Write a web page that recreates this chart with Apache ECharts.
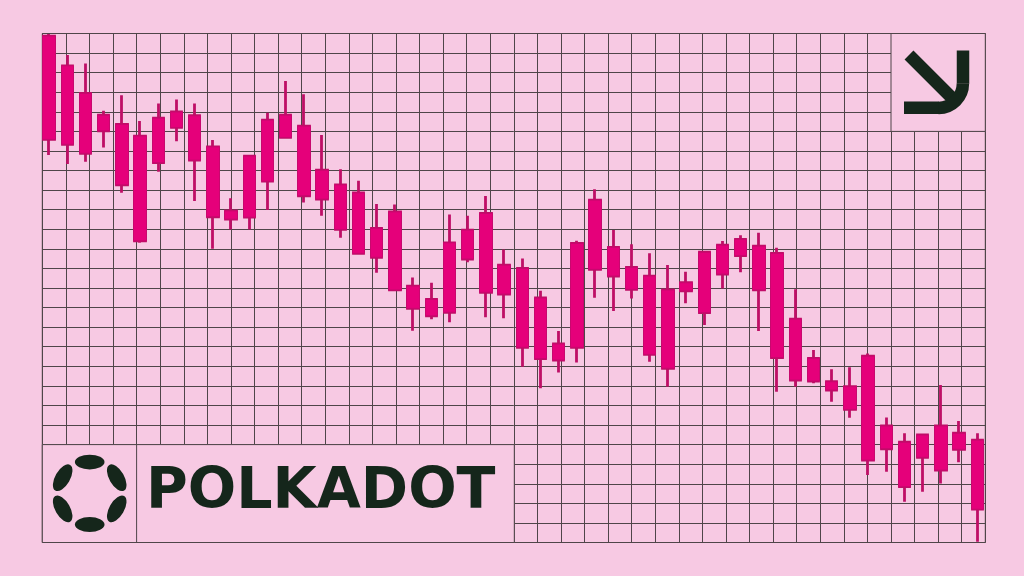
<!DOCTYPE html>
<html>
<head>
<meta charset="utf-8">
<script src="https://cdn.jsdelivr.net/npm/echarts@6/dist/echarts.min.js"></script>
<style>
html,body{margin:0;padding:0;background:#F7C9E3;}
#c{width:1024px;height:576px;}
</style>
</head>
<body>
<div id="c"></div>
<script>
// Candle data (price units), one entry per session
const sessions = Array.from({length: 52}, (_, i) => 'D' + (i + 1));
const opens  = [25.87,24.35,22.94,21.03,21.36,20.76,19.40,21.20,21.80,20.21,16.94,16.62,18.46,20.69,21.27,19.02,18.27,17.86,16.05,16.89,13.10,12.42,11.76,14.48,16.81,14.17,14.00,12.49,10.14,9.97,13.95,15.08,14.05,13.61,12.90,12.86,11.74,13.71,14.65,15.14,14.77,11.41,9.41,8.21,7.96,9.52,5.95,5.12,4.35,5.95,4.76,5.23];
const closes = [20.59,20.34,19.88,21.83,18.27,15.41,21.68,21.99,19.53,16.64,16.52,19.74,21.58,21.83,17.71,17.54,15.99,14.77,14.57,12.90,11.96,11.58,15.31,15.96,12.78,12.69,9.97,9.39,9.32,15.28,17.49,13.61,12.93,9.61,8.90,13.27,14.83,15.19,15.48,12.90,9.45,8.30,8.25,7.79,6.80,4.21,4.79,2.85,5.49,3.70,5.58,1.70];
const lows   = [19.79,19.33,19.45,20.18,17.86,15.31,18.94,20.50,17.44,15.00,15.99,15.99,16.98,20.69,17.37,16.69,15.57,14.77,13.78,12.90,10.82,11.40,11.25,14.31,11.50,11.45,8.98,7.88,8.69,9.20,12.50,11.82,12.47,9.23,7.96,12.22,11.11,12.98,13.80,10.80,7.70,7.96,8.13,7.19,6.37,3.45,3.62,2.08,2.59,3.02,4.10,0.04];
const highs  = [25.98,24.90,24.47,22.05,22.85,21.53,22.43,22.63,22.43,20.56,17.58,19.74,21.95,23.58,22.90,20.81,19.06,18.48,17.29,17.27,13.54,13.27,16.76,16.69,17.70,14.97,14.51,12.86,10.80,15.41,18.04,15.96,15.23,14.77,14.17,13.83,14.85,15.40,15.70,15.82,15.06,12.93,9.83,8.85,8.95,9.66,6.39,5.58,5.49,8.04,6.21,5.58];

const BG = '#F7C9E3';
const LINE = '#4F4549';
const INK = '#15261B';
const PINK = '#E5007A';
const WICK = '#BE0F66';

const candleData = sessions.map((s, i) => [opens[i], closes[i], lows[i], highs[i]]);
const bodyData = sessions.map((s, i) => {
  const lo = Math.min(opens[i], closes[i]), hi = Math.max(opens[i], closes[i]);
  return [opens[i], closes[i], lo, hi];
});

const chart = echarts.init(document.getElementById('c'), null, {renderer: 'canvas'});

// ring of six ellipses for the logo
const cx = 89.7, cy = 493.3, r = 31.2;
const dots = [];
[90, 30, -30, -90, -150, 150].forEach(a => {
  const rad = a * Math.PI / 180;
  dots.push({
    type: 'circle',
    x: cx + r * Math.cos(rad),
    y: cy - r * Math.sin(rad),
    scaleX: 2,
    scaleY: 1,
    rotation: (a + 90) * Math.PI / 180,
    shape: {cx: 0, cy: 0, r: 7.4},
    style: {fill: INK},
    z: 20
  });
});

const arrowStyle = {stroke: INK, lineWidth: 12.5, fill: null};

chart.setOption({
  backgroundColor: BG,
  animation: false,
  grid: [
    {left: 42.3, right: 38.7, top: 33.5, bottom: 33.5, show: true, borderColor: LINE, borderWidth: 1, backgroundColor: 'transparent'},
    {left: 40, right: 37.6, top: 33.5, bottom: 33.5}
  ],
  xAxis: [
    {gridIndex: 0, type: 'value', min: 0, max: 40, interval: 1, axisLabel: {show: false}, axisTick: {show: false}, axisLine: {show: false},
     splitLine: {show: true, lineStyle: {color: LINE, width: 1}}},
    {gridIndex: 1, type: 'category', data: sessions, boundaryGap: true, show: false}
  ],
  yAxis: [
    {gridIndex: 0, type: 'value', min: 0, max: 26, interval: 1, axisLabel: {show: false}, axisTick: {show: false}, axisLine: {show: false},
     splitLine: {show: true, lineStyle: {color: LINE, width: 1}}},
    {gridIndex: 1, type: 'value', min: 0, max: 26, show: false}
  ],
  series: [
    {
      type: 'candlestick', xAxisIndex: 1, yAxisIndex: 1, data: candleData,
      barWidth: 11,
      itemStyle: {color: PINK, color0: PINK, borderColor: WICK, borderColor0: WICK, borderWidth: 2.8},
      z: 5
    },
    {
      type: 'candlestick', xAxisIndex: 1, yAxisIndex: 1, data: bodyData,
      barWidth: 13,
      itemStyle: {color: PINK, color0: PINK, borderColor: '#C8086E', borderColor0: '#C8086E', borderWidth: 1},
      z: 6
    }
  ],
  graphic: {
    elements: [
      {type: 'rect', shape: {x: 42.3, y: 444.6, width: 472, height: 97.9}, style: {fill: BG, stroke: LINE, lineWidth: 1}, z: 10},
      {type: 'line', shape: {x1: 136.6, y1: 444.6, x2: 136.6, y2: 542.5}, style: {stroke: LINE, lineWidth: 1}, z: 11},
      {type: 'rect', shape: {x: 891, y: 33.5, width: 94.3, height: 97.9}, style: {fill: BG, stroke: LINE, lineWidth: 1}, z: 10},
      {type: 'line', shape: {x1: 909, y1: 55, x2: 954, y2: 100}, style: arrowStyle, z: 12},
      {type: 'line', shape: {x1: 904, y1: 107.7, x2: 939, y2: 107.7}, style: arrowStyle, z: 12},
      {type: 'line', shape: {x1: 963, y1: 83.7, x2: 963, y2: 50.5}, style: arrowStyle, z: 12},
      {type: 'arc', shape: {cx: 938.5, cy: 83.5, r: 24.4, startAngle: 0, endAngle: Math.PI / 2, clockwise: true}, style: arrowStyle, z: 12},
      {type: 'text', x: 146, y: 493, style: {text: 'POLKADOT', font: 'bold 57px "DejaVu Sans"', fill: INK, textAlign: 'left', textVerticalAlign: 'middle'}, z: 12}
    ].concat(dots)
  }
});
</script>
</body>
</html>
